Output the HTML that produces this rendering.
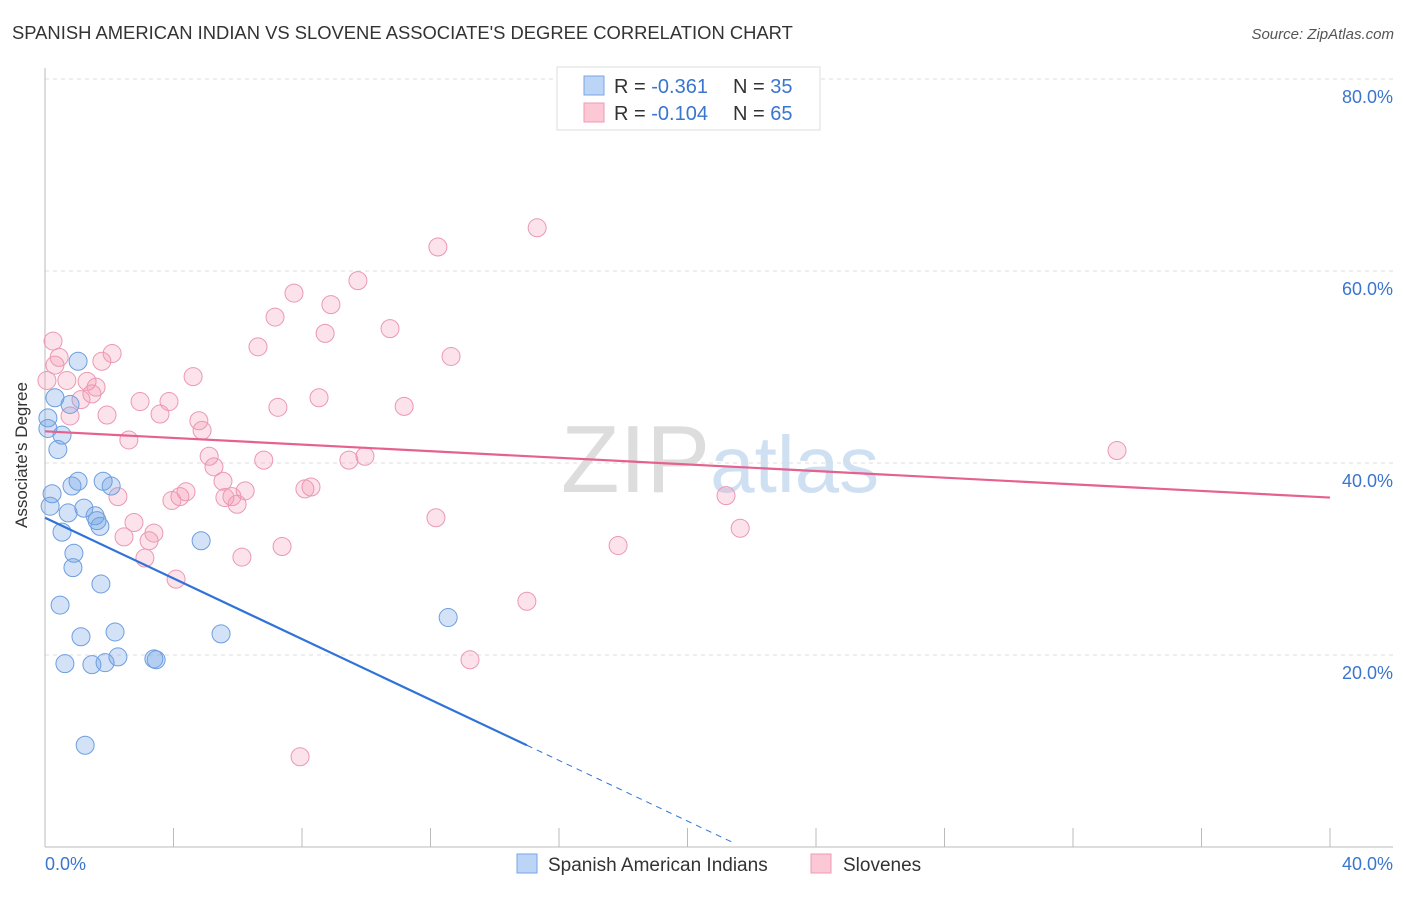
<!DOCTYPE html>
<html><head><meta charset="utf-8"><style>
body{margin:0;background:#fff;font-family:"Liberation Sans",sans-serif}
svg text{font-family:"Liberation Sans",sans-serif}
</style></head><body>
<svg id="c" width="1406" height="892" xmlns="http://www.w3.org/2000/svg">
<text x="12" y="39" font-size="18.4" fill="#333">SPANISH AMERICAN INDIAN VS SLOVENE ASSOCIATE'S DEGREE CORRELATION CHART</text>
<text x="1394" y="39" font-size="15" fill="#555" font-style="italic" text-anchor="end">Source: ZipAtlas.com</text>
<text x="720" y="492" font-size="96" fill="#ddd" text-anchor="middle" font-family="Liberation Serif">ZIP<tspan fill="#cfe0f3" font-family="Liberation Sans" font-size="80">atlas</tspan></text>
<g id="grid"></g><g id="axes"></g><g id="pts"></g><g id="trend"></g>
<text x="27" y="455" font-size="17" fill="#333" text-anchor="middle" transform="rotate(-90 27 455)">Associate's Degree</text>
<g>
<rect x="557" y="67" width="263" height="63" fill="#fff" stroke="#ddd"/>
<rect x="584" y="76" width="20" height="19" fill="#bcd4f5" stroke="#7aa6e6"/>
<rect x="584" y="103" width="20" height="19" fill="#fcc8d6" stroke="#ef9ab4"/>
<text x="614" y="93" font-size="20" fill="#333">R = <tspan fill="#3a75d0"> -0.361</tspan><tspan x="733">N = </tspan><tspan fill="#3a75d0">35</tspan></text>
<text x="614" y="120" font-size="20" fill="#333">R = <tspan fill="#3a75d0">-0.104</tspan><tspan x="733">N = </tspan><tspan fill="#3a75d0">65</tspan></text>
</g>
<g>
<rect x="517" y="854" width="20" height="19" fill="#bcd4f5" stroke="#7aa6e6"/>
<text x="548" y="871" font-size="19" fill="#333">Spanish American Indians</text>
<rect x="811" y="854" width="20" height="19" fill="#fcc8d6" stroke="#ef9ab4"/>
<text x="843" y="871" font-size="19" fill="#333">Slovenes</text>
</g>
</svg>
<script>
const xTicks=[0,4,8,12,16,20,24,28,32,36,40];
const yTicks=[20,40,60,80];
const blueX=[1.03,0.31,0.78,0.09,0.09,0.53,0.40,1.03,1.81,2.06,0.84,0.22,0.16,1.21,1.56,1.62,0.72,0.53,1.71,4.86,0.90,0.87,1.74,0.47,1.12,2.18,5.48,12.55,0.62,1.46,1.87,2.27,3.39,3.46,1.25];
const blueY=[50.6,46.8,46.1,44.7,43.6,42.9,41.4,38.1,38.1,37.6,37.6,36.8,35.5,35.3,34.5,34.0,34.8,32.8,33.4,31.9,30.6,29.1,27.4,25.2,21.9,22.4,22.2,23.9,19.1,19.0,19.2,19.8,19.6,19.5,10.6];
const pinkX=[0.25,0.44,2.09,1.77,0.68,1.31,1.59,0.06,1.46,1.12,0.78,1.93,2.96,3.86,3.58,4.61,2.61,4.79,4.89,5.11,5.26,5.54,5.82,2.27,3.95,4.20,4.39,5.60,5.98,6.23,2.77,2.46,3.39,3.24,3.11,4.08,6.13,7.38,6.81,7.25,6.63,7.16,7.75,8.72,8.90,9.74,10.74,12.23,15.32,12.64,8.53,11.18,9.46,9.96,8.09,8.28,12.17,17.84,15.0,13.23,7.94,21.2,21.64,33.37,0.31];
const pinkY=[52.7,51.0,51.4,50.6,48.6,48.5,47.9,48.6,47.2,46.6,44.9,45.0,46.4,46.4,45.1,49.0,42.4,44.4,43.4,40.7,39.6,38.1,36.5,36.5,36.1,36.5,37.0,36.4,35.7,37.1,33.8,32.3,32.7,31.9,30.1,27.9,30.2,31.3,40.3,45.8,52.1,55.2,57.7,53.5,56.5,59.0,54.0,62.5,64.5,51.1,46.8,45.9,40.3,40.7,37.3,37.5,34.3,31.4,25.6,19.5,9.4,36.6,33.2,41.3,50.2];
const blueTrend=[34.3,-1.58];const blueSolidEnd=15.0;const blueDashEnd=21.5;
const pinkTrend=[43.3,-0.1725];
const NS='http://www.w3.org/2000/svg';
const X=v=>45+v/40*1285, Y=v=>847-v*9.6;
function mk(t,a,p){const e=document.createElementNS(NS,t);for(const k in a)e.setAttribute(k,a[k]);document.getElementById(p).appendChild(e);return e;}
yTicks.forEach(t=>{
 const l=mk('line',{x1:45,x2:1393,y1:Y(t),y2:Y(t),stroke:'#ddd','stroke-dasharray':'4,4'},'grid');
 
 
 const tx=mk('text',{x:1393,y:Y(t)+24,'font-size':18,fill:'#3a75d0','text-anchor':'end'},'grid');
 tx.textContent=t.toFixed(1)+'%';
 
 
});
let a=mk('line',{x1:45,x2:45,y1:68,y2:847,stroke:'#bbb'},'axes');


a=mk('line',{x1:45,x2:1393,y1:847,y2:847,stroke:'#bbb'},'axes');


xTicks.forEach(t=>{
 const l=mk('line',{x1:X(t),x2:X(t),y1:828,y2:847,stroke:'#bbb'},'axes');
 
 
});
[[0,'start'],[40,'end']].forEach(([t,an])=>{
 const tx=mk('text',{x:t==0?45:1393,y:870,'font-size':18,fill:'#3a75d0','text-anchor':an},'axes');
 tx.textContent=t.toFixed(1)+'%';
 
 
});
pinkX.forEach((x,i)=>{
 const c=mk('circle',{cx:X(x),cy:Y(pinkY[i]),r:9,fill:'rgba(244,150,180,0.28)',stroke:'#ec98b2','stroke-width':1},'pts');
 
 
});
blueX.forEach((x,i)=>{
 const c=mk('circle',{cx:X(x),cy:Y(blueY[i]),r:9,fill:'rgba(110,160,230,0.3)',stroke:'#6e9ee0','stroke-width':1},'pts');
 
 
});
const bf=x=>blueTrend[0]+blueTrend[1]*x, pf=x=>pinkTrend[0]+pinkTrend[1]*x;
let t=mk('line',{x1:X(0),y1:Y(bf(0)),x2:X(blueSolidEnd),y2:Y(bf(blueSolidEnd)),stroke:'#2f73d8','stroke-width':2.2},'trend');


t=mk('line',{x1:X(blueSolidEnd),y1:Y(bf(blueSolidEnd)),x2:X(blueDashEnd),y2:Y(bf(blueDashEnd)),stroke:'#2f73d8','stroke-width':1,'stroke-dasharray':'6,5'},'trend');


t=mk('line',{x1:X(0),y1:Y(pf(0)),x2:X(40),y2:Y(pf(40)),stroke:'#e5628e','stroke-width':2.2},'trend');


</script>
</body></html>
